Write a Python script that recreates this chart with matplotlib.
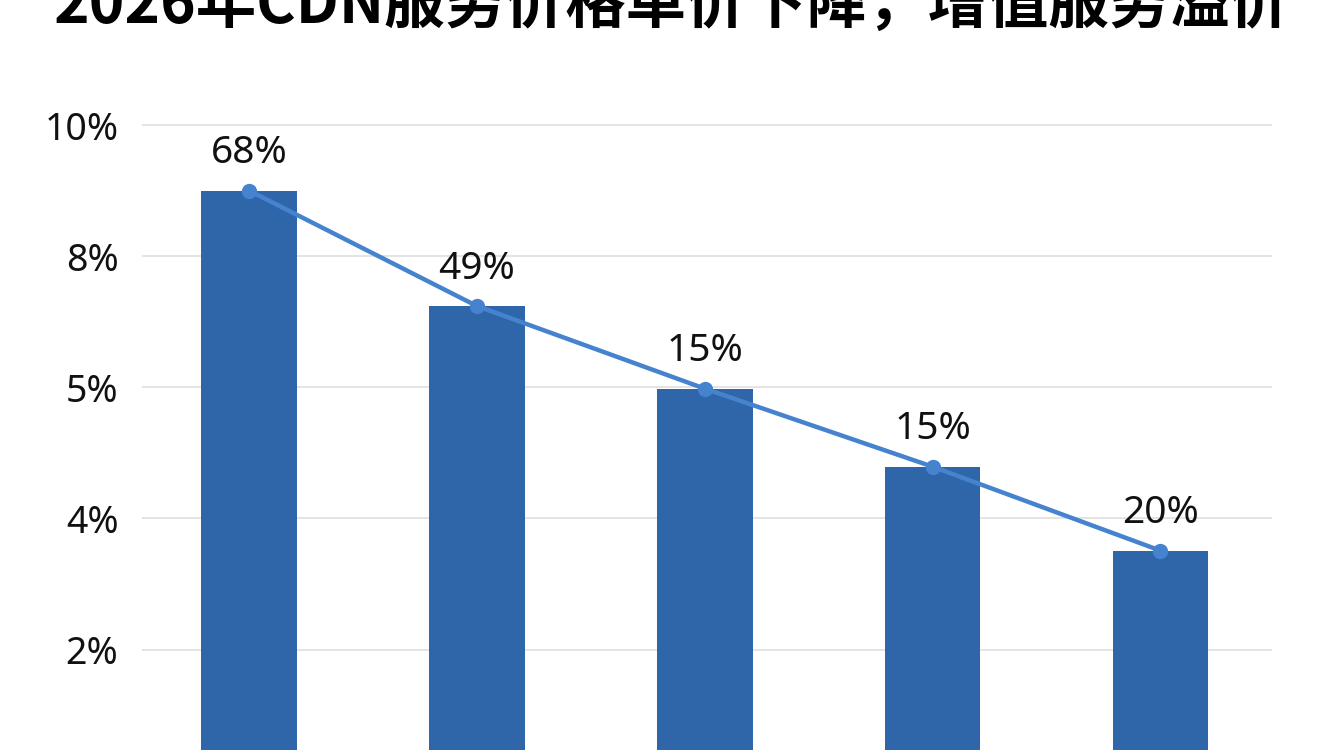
import matplotlib
matplotlib.use('Agg')
import matplotlib.pyplot as plt
import numpy as np

plt.rcParams['font.family'] = ['Noto Sans CJK SC', 'DejaVu Sans']

# data
categories = ['A', 'B', 'C', 'D', 'E']
bar_values = [9.0, 7.24, 5.98, 4.79, 3.51]
point_labels = ['68%', '49%', '15%', '15%', '20%']
ytick_pos = [2, 4, 6, 8, 10]
ytick_labels = ['2%', '4%', '5%', '8%', '10%']
title = '2026年CDN服务价格单价下降，增值服务溢价'

bar_color = '#2f66aa'
line_color = '#4683cf'

fig = plt.figure(figsize=(13.44, 7.5), dpi=100)
fig.patch.set_facecolor('white')

# axes runs off the bottom of the figure, like the cropped original
ax = fig.add_axes([142 / 1344, -0.041, (1272 - 142) / 1344, 0.918])

x = np.arange(len(categories))
ax.bar(x, bar_values, width=0.42, color=bar_color, zorder=2)
ax.plot(x, bar_values, color=line_color, linewidth=3.2, marker='o',
        markersize=10, zorder=3)

for xi, v, lab in zip(x, bar_values, point_labels):
    ax.annotate(lab, (xi, v), xytext=(0, 27), textcoords='offset points',
                ha='center', va='center', fontsize=28, color='#111111',
                family=['Noto Sans', 'DejaVu Sans'])

ax.set_xlim(-0.47, len(categories) - 1 + 0.49)
ax.set_ylim(0, 10.5)
ax.set_yticks(ytick_pos)
ax.set_yticklabels(ytick_labels, fontsize=27, color='#111111',
                   family=['Noto Sans', 'DejaVu Sans'])
ax.set_xticks([])
ax.tick_params(axis='y', length=0, pad=17)
ax.grid(axis='y', color='#e4e4e4', linewidth=1.4, zorder=0)
ax.set_axisbelow(True)
for s in ax.spines.values():
    s.set_visible(False)

# title is cropped at the top in the reference
fig.text(0.5, 1 - 23 / 750, title, ha='center', va='baseline',
         fontsize=43.5, fontweight='bold', color='black')

fig.savefig('out.png', dpi=100, facecolor='white')
